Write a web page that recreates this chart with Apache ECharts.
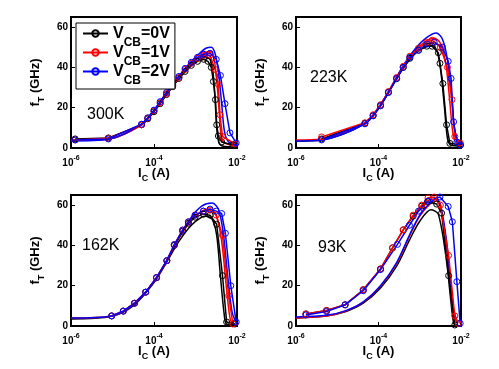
<!DOCTYPE html>
<html><head><meta charset="utf-8">
<script src="https://cdn.jsdelivr.net/npm/echarts@6/dist/echarts.min.js"></script>
<style>html,body{margin:0;padding:0;background:#fff}#c{width:499px;height:369px}</style>
</head><body><div id="c"></div><script>
// ---- data: [Ic (A), fT (GHz)] ----
const seriesNames = ['VCB=0V', 'VCB=1V', 'VCB=2V'];
const tempLabels = ['300K', '223K', '162K', '93K'];
const yTicks = [0, 20, 40, 60];

// 300K measured
const m300_0 = [[1.26e-6,4.5],[7.94e-6,5],[5.01e-5,11.5],[7.08e-5,14.5],[1.0e-4,18],[1.41e-4,22],[2.0e-4,26.5],[2.82e-4,30.5],[3.98e-4,34.5],[5.62e-4,38],[7.94e-4,41],[1.12e-3,43],[1.58e-3,44],[2.0e-3,43],[2.4e-3,40],[2.7e-3,33],[3.02e-3,24],[3.24e-3,11.5],[3.55e-3,6],[4.27e-3,3],[7.94e-3,1.5]];
const m300_1 = [[1.26e-6,4],[7.94e-6,4.8],[5.01e-5,11.5],[7.08e-5,14.8],[1.0e-4,18.5],[1.41e-4,22.5],[2.0e-4,27],[2.82e-4,31],[3.98e-4,35],[5.62e-4,39],[7.94e-4,42],[1.12e-3,44.5],[1.58e-3,46],[2.24e-3,46],[2.95e-3,39],[3.55e-3,31.5],[3.89e-3,16.5],[4.47e-3,5.7],[8.91e-3,2]];
const m300_2 = [[1.26e-6,4],[7.94e-6,4.5],[5.01e-5,11.8],[7.08e-5,15],[1.0e-4,18.8],[1.41e-4,23],[2.0e-4,27.5],[2.82e-4,31.5],[3.98e-4,35.5],[5.62e-4,39.5],[7.94e-4,42.5],[1.12e-3,45],[1.58e-3,46.5],[2.24e-3,47],[3.16e-3,44],[3.98e-3,36],[5.13e-3,22],[6.76e-3,7.5],[9.55e-3,2.5]];
// 300K model
const s300_0 = [[1e-6,4],[7.94e-6,4.5],[5.01e-5,11.5],[1e-4,18],[2e-4,26.5],[3.98e-4,34.5],[7.94e-4,41],[1.26e-3,44],[1.78e-3,45],[2.24e-3,44],[2.63e-3,38],[2.95e-3,25],[3.24e-3,10],[3.63e-3,3],[4.47e-3,1],[1e-2,0.5]];
const s300_1 = [[1e-6,4],[7.94e-6,4.5],[5.01e-5,11.5],[1e-4,18.5],[2e-4,27],[3.98e-4,35],[7.94e-4,42],[1.26e-3,45.5],[1.78e-3,47.5],[2.4e-3,48],[2.82e-3,44],[3.24e-3,34],[3.72e-3,18],[4.17e-3,6],[5.01e-3,2.5],[1e-2,1]];
const s300_2 = [[1e-6,3.5],[7.94e-6,4.3],[5.01e-5,11.8],[1e-4,18.8],[2e-4,27.5],[3.98e-4,35.5],[7.94e-4,43],[1.26e-3,47],[1.78e-3,49.5],[2.4e-3,50],[2.95e-3,47],[3.55e-3,38],[4.27e-3,22],[5.01e-3,8],[6.31e-3,3],[1e-2,1.5]];

// 223K measured
const m223_0 = [[4.17e-6,4.5],[4.68e-5,12.3],[7.41e-5,16],[1.12e-4,21],[1.74e-4,27.7],[2.75e-4,34.4],[3.98e-4,40],[5.75e-4,44.5],[9.33e-4,48.5],[1.48e-3,50.5],[2.0e-3,50.5],[2.82e-3,47.3],[3.09e-3,42],[3.63e-3,32],[4.47e-3,11.5],[5.37e-3,2.3],[9.8e-3,1.5]];
const m223_1 = [[4.17e-6,5.5],[4.68e-5,12.5],[7.41e-5,16.5],[1.12e-4,21.5],[1.74e-4,28],[2.75e-4,35],[3.98e-4,40.5],[5.75e-4,45.5],[9.33e-4,49.5],[1.48e-3,52.5],[2.0e-3,53.5],[3.16e-3,50],[4.68e-3,40],[6.03e-3,24],[7.08e-3,5.7],[9.55e-3,2.5]];
const m223_2 = [[4.17e-6,4],[4.68e-5,12],[7.41e-5,16],[1.12e-4,21],[1.74e-4,27.5],[2.75e-4,34.5],[3.98e-4,40],[5.75e-4,45],[9.33e-4,48.5],[1.48e-3,51.5],[2.24e-3,52.5],[3.55e-3,50],[4.9e-3,43],[5.75e-3,34.5],[6.61e-3,13],[7.94e-3,3],[9.55e-3,1.5]];
// 223K model
const s223_0 = [[1e-6,3.5],[4.17e-6,4],[4.68e-5,12],[1e-4,19.5],[2e-4,29.5],[3.98e-4,39.5],[7.94e-4,47],[1.41e-3,50.5],[2e-3,51],[2.63e-3,48],[3.24e-3,38],[3.98e-3,20],[4.68e-3,5],[5.62e-3,1.5],[1e-2,1]];
const s223_1 = [[1e-6,4],[4.17e-6,4.5],[4.68e-5,12.3],[1e-4,20],[2e-4,30],[3.98e-4,40.5],[7.94e-4,48.5],[1.41e-3,53],[2.24e-3,54.5],[3.16e-3,52],[4.27e-3,42],[5.25e-3,25],[6.31e-3,8],[7.59e-3,2.5],[1e-2,1.5]];
const s223_2 = [[1e-6,3.5],[4.17e-6,4],[4.68e-5,12],[1e-4,20],[2e-4,30],[3.98e-4,41],[7.94e-4,49.5],[1.41e-3,54.5],[2.51e-3,57],[3.55e-3,54],[4.68e-3,44],[5.75e-3,28],[6.92e-3,10],[8.32e-3,3.5],[1e-2,2]];

// 162K measured
const m162_0 = [[9.55e-6,5],[1.82e-5,7.4],[3.39e-5,11.3],[6.31e-5,16.8],[1.15e-4,24],[2.04e-4,32.4],[3.09e-4,40],[4.9e-4,47],[6.76e-4,51],[9.77e-4,54],[1.55e-3,55.5],[2.24e-3,55],[3.24e-3,50.5],[4.47e-3,25],[5.62e-3,2],[8.91e-3,1]];
const m162_1 = [[9.55e-6,5],[1.82e-5,7.4],[3.39e-5,11.3],[6.31e-5,16.8],[1.15e-4,24],[2.04e-4,32.4],[3.09e-4,40.4],[4.9e-4,47.6],[6.76e-4,51.7],[9.77e-4,55],[1.55e-3,57],[2.24e-3,57.5],[3.16e-3,55],[4.47e-3,45],[6.31e-3,15],[7.94e-3,1]];
const m162_2 = [[9.55e-6,5],[1.82e-5,7.4],[3.39e-5,11.3],[6.31e-5,16.8],[1.15e-4,24],[2.04e-4,32.4],[3.09e-4,40.4],[4.9e-4,47.6],[6.76e-4,51.7],[9.77e-4,55],[1.55e-3,57],[2.24e-3,58],[3.16e-3,57],[4.27e-3,55.8],[5.25e-3,46],[7.08e-3,20],[9.55e-3,2]];
// 162K model
const s162_0 = [[1e-6,3.5],[9.55e-6,4.8],[3.39e-5,10.5],[1e-4,21.5],[2e-4,31.5],[3.98e-4,42],[7.94e-4,50],[1.41e-3,54],[1.78e-3,54.5],[2.51e-3,53],[3.24e-3,45],[3.98e-3,25],[4.9e-3,6],[5.62e-3,1],[1e-2,0.5]];
const s162_1 = [[1e-6,4],[9.55e-6,5],[3.39e-5,11],[1e-4,22],[2e-4,32],[3.98e-4,43.5],[7.94e-4,52.5],[1.41e-3,57],[2.24e-3,58],[3.16e-3,55],[4.27e-3,42],[5.62e-3,18],[6.92e-3,3],[8.32e-3,1],[1e-2,0.5]];
const s162_2 = [[1e-6,4],[9.55e-6,5],[3.39e-5,11],[1e-4,22],[2e-4,32.5],[3.98e-4,44],[7.94e-4,54],[1.41e-3,59.5],[2.51e-3,61],[3.55e-3,58],[4.68e-3,46],[6.03e-3,24],[7.59e-3,7],[9.33e-3,2],[1e-2,1.5]];

// 93K measured
const m93_0 = [[1.74e-6,6],[5.5e-6,7.7],[1.55e-5,10.5],[4.27e-5,18],[1.12e-4,28.3],[2.19e-4,38.8],[3.98e-4,47.7],[6.92e-4,54.5],[1.12e-3,59.5],[1.55e-3,61.7],[2.57e-3,60.5],[3.39e-3,56],[5.01e-3,25],[7.08e-3,0.5]];
const m93_1 = [[1.74e-6,6],[5.5e-6,7.7],[1.55e-5,10.5],[4.27e-5,18],[1.12e-4,28.3],[2.19e-4,38.8],[3.98e-4,47.7],[6.92e-4,55],[1.12e-3,60],[1.58e-3,63.5],[2.24e-3,64],[3.16e-3,60],[5.01e-3,35],[7.08e-3,5],[8.51e-3,1.3]];
const m93_2 = [[1.74e-6,5.5],[5.5e-6,7.2],[1.55e-5,10.5],[4.27e-5,17.5],[1.12e-4,28],[2.88e-4,40.5],[5.62e-4,50],[9.33e-4,57],[1.58e-3,62],[3.09e-3,64],[4.9e-3,59.3],[6.17e-3,51.7],[7.94e-3,22],[9.55e-3,1.3]];
// 93K model
const s93_0 = [[1e-6,4],[5.5e-6,5],[1.55e-5,7],[4.27e-5,11.3],[1.12e-4,18.8],[2.75e-4,29.7],[5.75e-4,43],[1e-3,52],[1.86e-3,57.7],[2.82e-3,55.5],[4.47e-3,32],[6.61e-3,1.3],[8e-3,0.5]];
const s93_1 = [[1e-6,4],[5.5e-6,5],[1.55e-5,7.3],[4.27e-5,11.8],[1.12e-4,19.8],[2.75e-4,31],[5.75e-4,45],[1e-3,54.5],[1.78e-3,60.5],[2.51e-3,62],[3.16e-3,59],[4.47e-3,40],[6.31e-3,8],[7.94e-3,1.5]];
const s93_2 = [[1e-6,4.5],[5.5e-6,5.3],[1.55e-5,7.5],[4.27e-5,12],[1.12e-4,20],[2.75e-4,31.5],[5.75e-4,45.5],[1e-3,55],[1.78e-3,61],[2.51e-3,63],[3.16e-3,60.5],[4.47e-3,42],[6.31e-3,10],[8.32e-3,1.5]];

// ---- chart ----
const FF = '"Liberation Sans", Arial, Helvetica, sans-serif';
const colors = ['#000000', '#ff0000', '#0000ff'];
const meas = [[m300_0,m300_1,m300_2],[m223_0,m223_1,m223_2],[m162_0,m162_1,m162_2],[m93_0,m93_1,m93_2]];
const sims = [[s300_0,s300_1,s300_2],[s223_0,s223_1,s223_2],[s162_0,s162_1,s162_2],[s93_0,s93_1,s93_2]];
const gridPos = [
  {left:71, top:17, width:166, height:131},
  {left:296, top:17, width:165, height:131},
  {left:71, top:195, width:166, height:131},
  {left:296, top:195, width:165, height:131}
];
const tempPos = [
  {left:87, top:107}, {left:310, top:70}, {left:82, top:238}, {left:318, top:240}
];
const txt = (size, extra) => Object.assign({fontSize:size, fontWeight:'bold', fontFamily:FF, color:'#000'}, extra || {});

const grid = gridPos.map(p => Object.assign({show:true, borderColor:'#000', borderWidth:2, backgroundColor:'transparent', containLabel:false, outerBoundsMode:'none'}, p));
const xAxis = gridPos.map((p, i) => ({
  type:'log', logBase:10, gridIndex:i, min:1e-6, max:1e-2, interval:2,
  axisLine:{show:true, onZero:false, lineStyle:{color:'#000', width:2}},
  axisTick:{show:true, inside:true, length:4, lineStyle:{color:'#000', width:1}},
  minorTick:{show:false}, splitLine:{show:false},
  axisLabel:{margin:9,
    formatter: v => '{b|10}{s|' + Math.round(Math.log10(v)) + '}',
    rich:{b:txt(10,{lineHeight:12}), s:txt(7,{lineHeight:12, padding:[0,0,10,0]})}},
  name:'{i|I}{c|C}{i| (A)}', nameLocation:'middle', nameGap:17, nameMoveOverlap:false,
  nameTextStyle:{rich:{i:txt(13,{lineHeight:16}), c:txt(9,{lineHeight:16, padding:[12,0,0,0]})}}
}));
const yAxis = gridPos.map((p, i) => ({
  type:'value', gridIndex:i, min:yTicks[0], max:65, interval:20,
  axisLine:{show:true, onZero:false, lineStyle:{color:'#000', width:2}},
  axisTick:{show:true, inside:true, length:4, lineStyle:{color:'#000', width:1}},
  splitLine:{show:false},
  axisLabel:Object.assign({showMaxLabel:false, margin:3}, txt(10)),
  name:'{f|f}{t|T}{f| (GHz)}', nameLocation:'middle', nameGap:28, nameMoveOverlap:false,
  nameTextStyle:{rich:{f:txt(13,{lineHeight:16}), t:txt(9,{lineHeight:16, padding:[14,0,0,0]})}}
}));

const series = [];
for (let g = 0; g < 4; g++) {
  for (let k = 0; k < 3; k++) {
    series.push({type:'line', name:'model ' + seriesNames[k], xAxisIndex:g, yAxisIndex:g,
      data:sims[g][k], symbol:'none', smooth:0.3, z:2,
      lineStyle:{color:colors[k], width:1.5}, itemStyle:{color:colors[k]}});
  }
  for (let k = 0; k < 3; k++) {
    series.push({type:'line', name:seriesNames[k], xAxisIndex:g, yAxisIndex:g,
      data:meas[g][k], symbol:'circle', symbolSize:6, showSymbol:true, z:3,
      lineStyle:{color:colors[k], width:1.5},
      itemStyle:{color:'rgba(255,255,255,0)', borderColor:colors[k], borderWidth:1}});
  }
}

const chart = echarts.init(document.getElementById('c'), null, {renderer:'canvas'});
chart.setOption({
  animation:false,
  backgroundColor:'#fff',
  title: tempLabels.map((t, i) => ({text:t, left:tempPos[i].left, top:tempPos[i].top, padding:0,
    textStyle:{fontSize:16, fontWeight:'normal', fontFamily:FF, color:'#000'}})),
  legend:{
    data:seriesNames, orient:'vertical', left:76, top:23,
    padding:[-5,5,2,6], itemGap:-12, itemWidth:25, itemHeight:8,
    borderColor:'#000', borderWidth:1, backgroundColor:'#fff',
    formatter: n => '{v|V}{s|CB}{v|' + n.slice(3) + '}',
    textStyle:{rich:{v:txt(16,{lineHeight:18}), s:txt(12,{lineHeight:18, padding:[19,0,0,0]})}}
  },
  grid, xAxis, yAxis, series
});
</script></body></html>
